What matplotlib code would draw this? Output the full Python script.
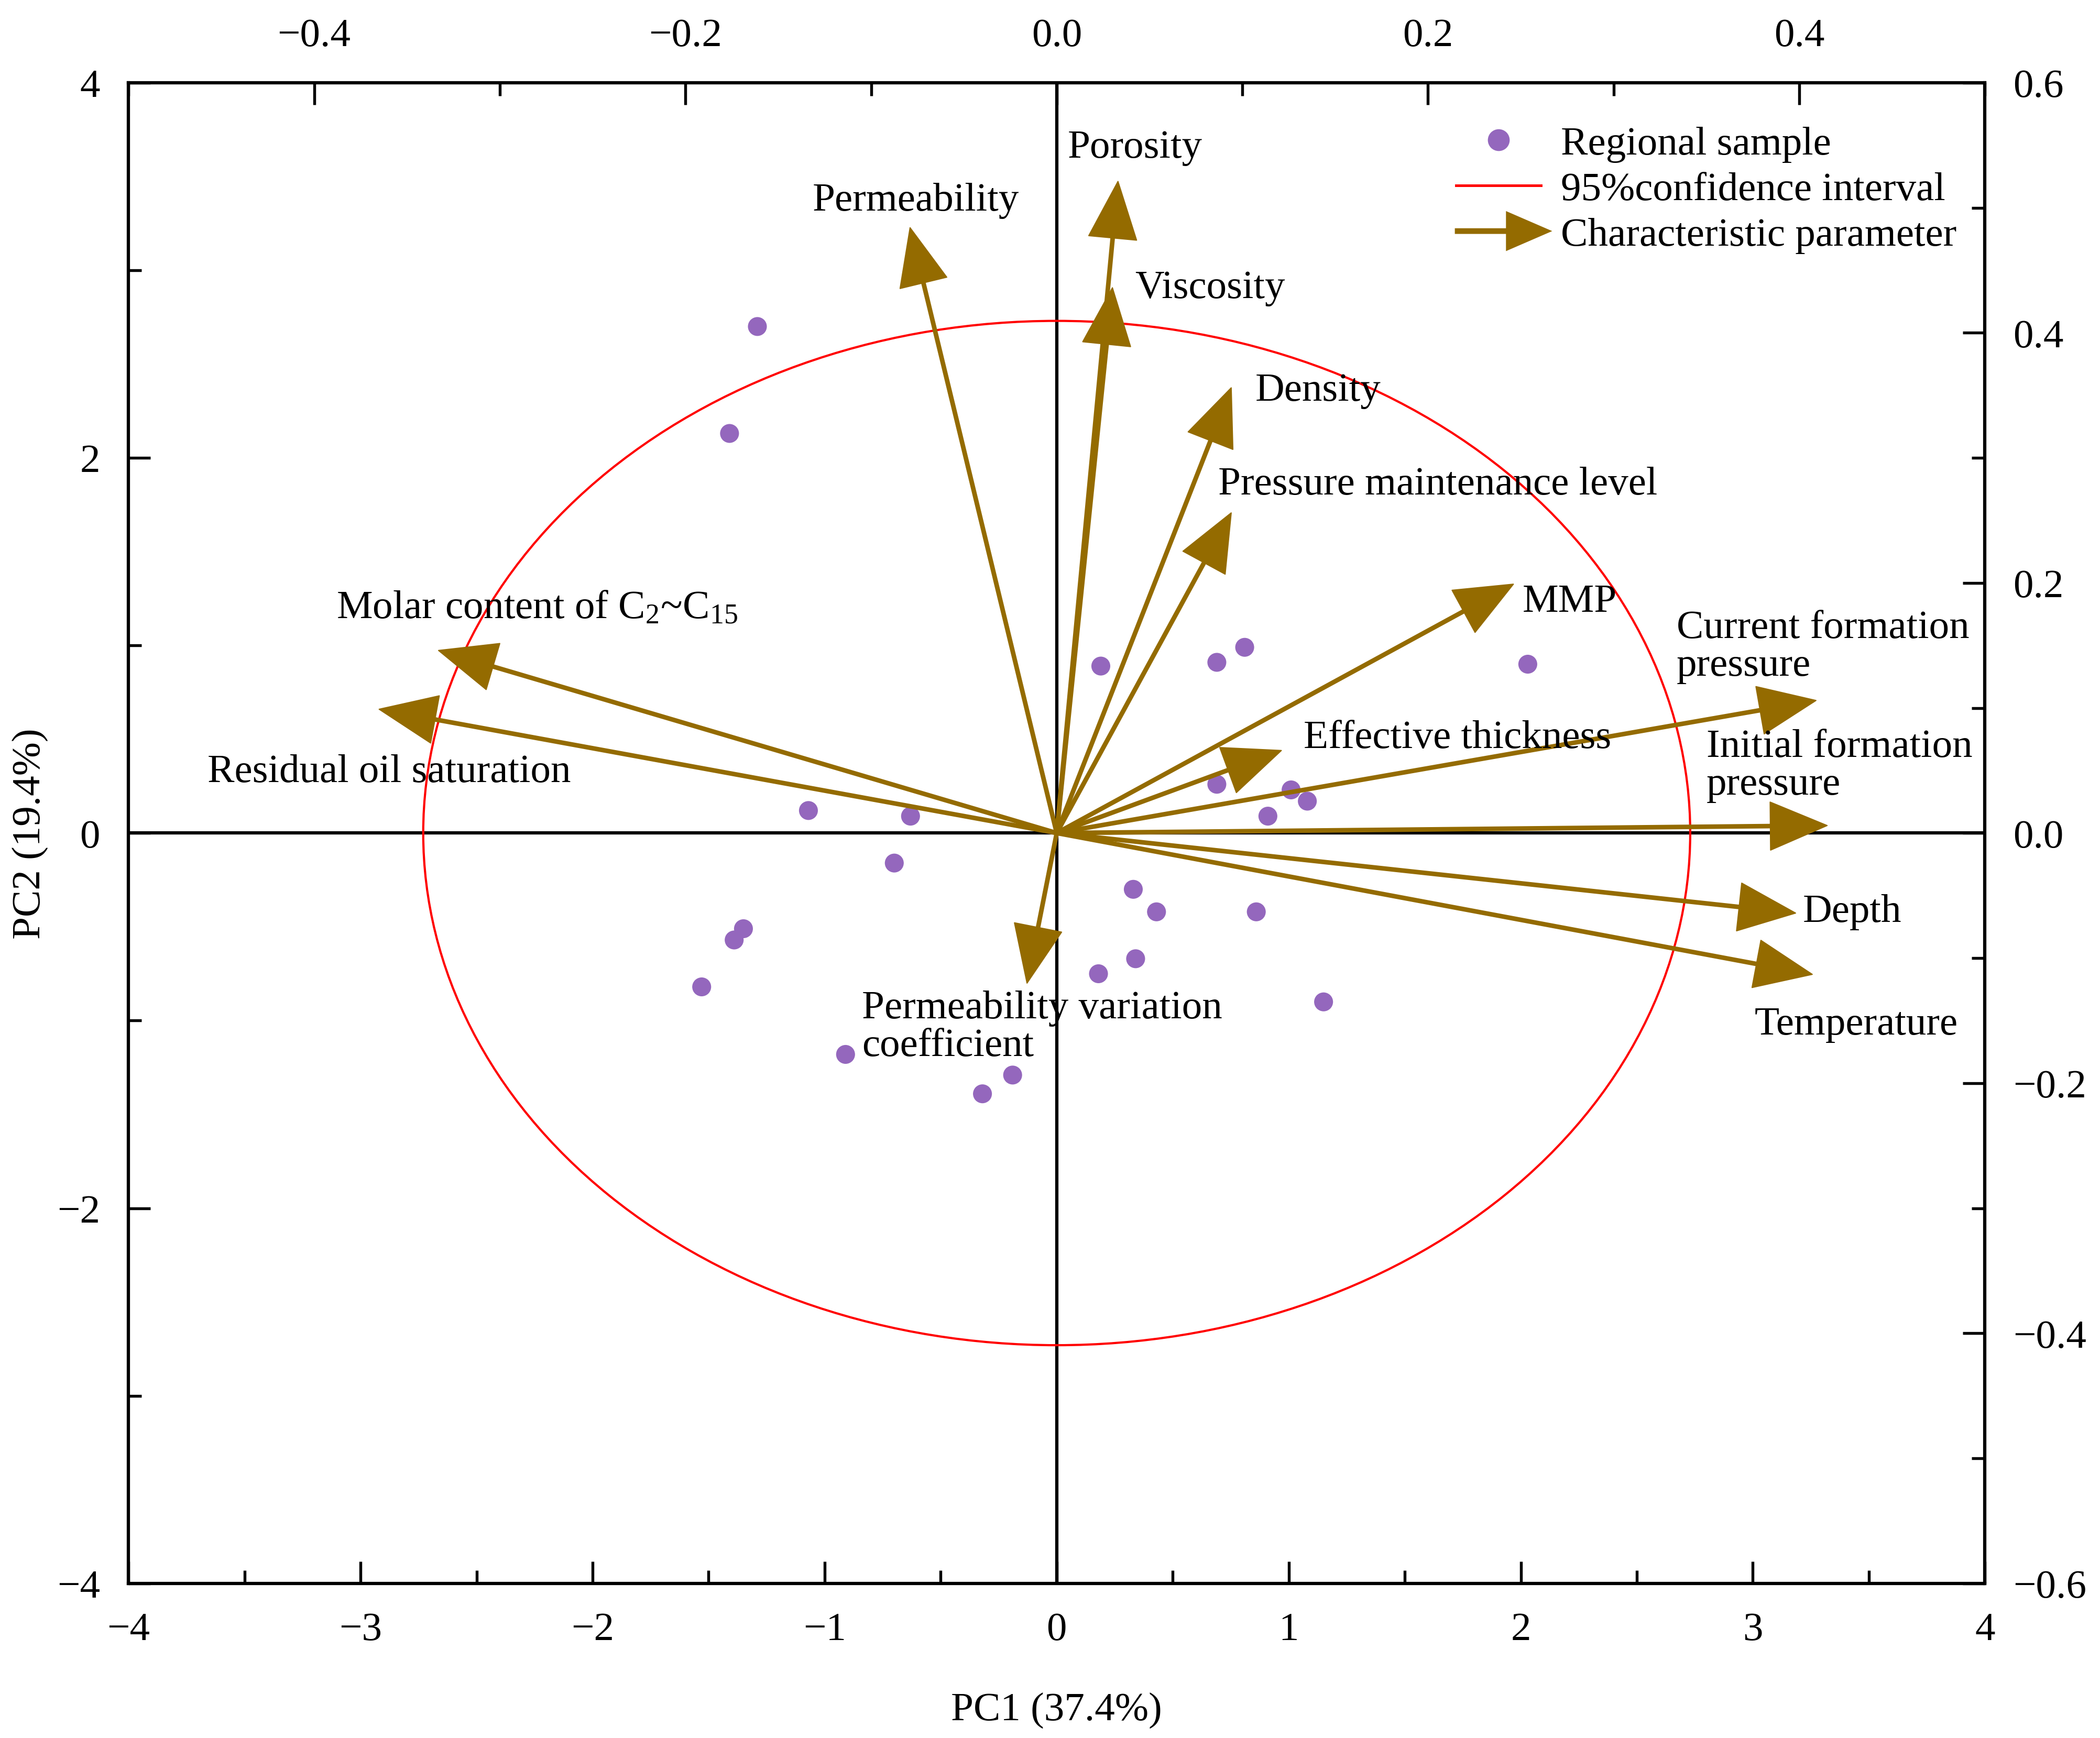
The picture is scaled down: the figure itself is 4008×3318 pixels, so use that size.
import numpy as np
import matplotlib.pyplot as plt
import matplotlib.patches as mpatches
from matplotlib.lines import Line2D
from matplotlib.legend_handler import HandlerPatch
from matplotlib.ticker import MultipleLocator, FuncFormatter

plt.rcParams['font.family'] = ['Liberation Serif', 'DejaVu Serif']
plt.rcParams['mathtext.fontset'] = 'custom'
plt.rcParams['mathtext.rm'] = 'Liberation Serif'
plt.rcParams['mathtext.it'] = 'Liberation Serif:italic'
plt.rcParams['axes.unicode_minus'] = True

# regional samples (PC scores)
pc1 = [-1.29, -1.41, 0.19, 0.69, 0.81, 2.03, -1.07, -0.63, 0.69, 1.01, 1.08, 0.91,
       -0.70, 0.33, 0.43, 0.86, -1.35, -1.39, -1.53, 0.34, 0.18, 1.15, -0.91, -0.19, -0.32]
pc2 = [2.70, 2.13, 0.89, 0.91, 0.99, 0.90, 0.12, 0.09, 0.26, 0.23, 0.17, 0.09,
       -0.16, -0.30, -0.42, -0.42, -0.51, -0.57, -0.82, -0.67, -0.75, -0.90, -1.18, -1.29, -1.39]

# loadings of the characteristic parameters (top / right axes)
params = ['Porosity', 'Permeability', 'Viscosity', 'Density', 'Pressure maintenance level',
          'MMP', 'Effective thickness', 'Current formation\npressure',
          'Initial formation\npressure', 'Depth', 'Temperature',
          'Molar content of C$_{2}$~C$_{15}$', 'Residual oil saturation',
          'Permeability variation\ncoefficient']
load1 = [0.033, -0.079, 0.030, 0.094, 0.094, 0.246, 0.121, 0.409, 0.415, 0.398, 0.407,
         -0.333, -0.365, -0.016]
load2 = [0.521, 0.484, 0.436, 0.356, 0.256, 0.199, 0.066, 0.106, 0.006, -0.064, -0.113,
         0.146, 0.099, -0.120]

# label anchors (loading axes units)
lab_x = [0.006, -0.076, 0.042, 0.107, 0.087, 0.251, 0.133, 0.334, 0.350, 0.402, 0.376,
         -0.388, -0.4575, -0.105]
lab_y = [0.548, 0.506, 0.436, 0.354, 0.279, 0.185, 0.076, 0.149, 0.054, -0.063, -0.153,
         0.180, 0.049, -0.155]
lab_ha = ['left', 'center', 'left', 'left', 'left', 'left', 'left', 'left', 'left', 'left',
          'left', 'left', 'left', 'left']

conf_radius = 2.73  # 95% confidence ellipse

purple = '#9467bd'
brown = '#946b00'
fs = 18.5

fig = plt.figure(figsize=(13.36, 11.063), dpi=300)
pos = [0.0612, 0.0889, 0.884, 0.8633]
ax = fig.add_axes(pos)
ax2 = fig.add_axes(pos, frameon=False)

ax.set_xlim(-4, 4)
ax.set_ylim(-4, 4)
ax2.set_xlim(-0.5, 0.5)
ax2.set_ylim(-0.6, 0.6)

ax.axhline(0, color='black', lw=1.5, zorder=1)
ax.axvline(0, color='black', lw=1.5, zorder=1)

ell = mpatches.Ellipse((0, 0), 2 * conf_radius, 2 * conf_radius, fill=False,
                       edgecolor='red', lw=1.0, zorder=2)
ax.add_patch(ell)
ax.scatter(pc1, pc2, s=75, color=purple, edgecolors='none', zorder=3)

for i in range(len(params)):
    ax2.annotate('', xy=(load1[i], load2[i]), xytext=(0, 0),
                 arrowprops=dict(width=1.6, headwidth=22, headlength=26,
                                 facecolor=brown, edgecolor=brown, lw=0.5, shrink=0),
                 zorder=4)
    ax2.text(lab_x[i], lab_y[i], params[i], ha=lab_ha[i], va='center', fontsize=fs,
             multialignment='left', linespacing=1.05, zorder=5)

# ticks
for s in ax.spines.values():
    s.set_linewidth(1.5)
fmt_int = FuncFormatter(lambda v, p: f'{v:.0f}'.replace('-', '\u2212'))
fmt_dec = FuncFormatter(lambda v, p: f'{v:.1f}'.replace('-', '\u2212'))
ax.xaxis.set_major_locator(MultipleLocator(1))
ax.xaxis.set_minor_locator(MultipleLocator(0.5))
ax.yaxis.set_major_locator(MultipleLocator(2))
ax.yaxis.set_minor_locator(MultipleLocator(1))
ax.xaxis.set_major_formatter(fmt_int)
ax.yaxis.set_major_formatter(fmt_int)
ax.tick_params(which='both', direction='in', width=1.3, labelsize=fs,
               top=False, right=False)
ax.tick_params(which='major', length=10, pad=13)
ax.tick_params(which='minor', length=6)

ax2.xaxis.tick_top()
ax2.yaxis.tick_right()
ax2.xaxis.set_major_locator(MultipleLocator(0.2))
ax2.xaxis.set_minor_locator(MultipleLocator(0.1))
ax2.yaxis.set_major_locator(MultipleLocator(0.2))
ax2.yaxis.set_minor_locator(MultipleLocator(0.1))
ax2.xaxis.set_major_formatter(fmt_dec)
ax2.yaxis.set_major_formatter(fmt_dec)
ax2.tick_params(which='both', direction='in', width=1.3, labelsize=fs,
                bottom=False, left=False, top=True, right=True)
ax2.tick_params(which='major', length=10, pad=13)
ax2.tick_params(which='minor', length=6)

ax.set_xlabel('PC1 (37.4%)', fontsize=fs, labelpad=20)
ax.set_ylabel('PC2 (19.4%)', fontsize=fs, labelpad=4)


# legend
def make_arrow(legend, orig_handle, xdescent, ydescent, width, height, fontsize):
    return mpatches.FancyArrow(-xdescent, height / 2 - ydescent, width + 4, 0,
                               width=1.6, head_width=height * 1.3, head_length=width * 0.5,
                               length_includes_head=True)


h_pts = Line2D([], [], marker='o', ls='', color=purple, ms=9)
h_line = Line2D([], [], color='red', lw=1.2)
h_arrow = mpatches.FancyArrow(0, 0, 1, 0, facecolor=brown, edgecolor=brown)
leg = ax.legend([h_pts, h_line, h_arrow],
                ['Regional sample', '95%confidence interval', 'Characteristic parameter'],
                handler_map={mpatches.FancyArrow: HandlerPatch(patch_func=make_arrow)},
                loc='upper right', bbox_to_anchor=(1.0, 0.99), frameon=False,
                fontsize=fs, handlelength=2.1, handletextpad=0.5, labelspacing=0.22,
                borderaxespad=0.3)
leg.set_zorder(6)

fig.savefig('out.png', dpi=300)
